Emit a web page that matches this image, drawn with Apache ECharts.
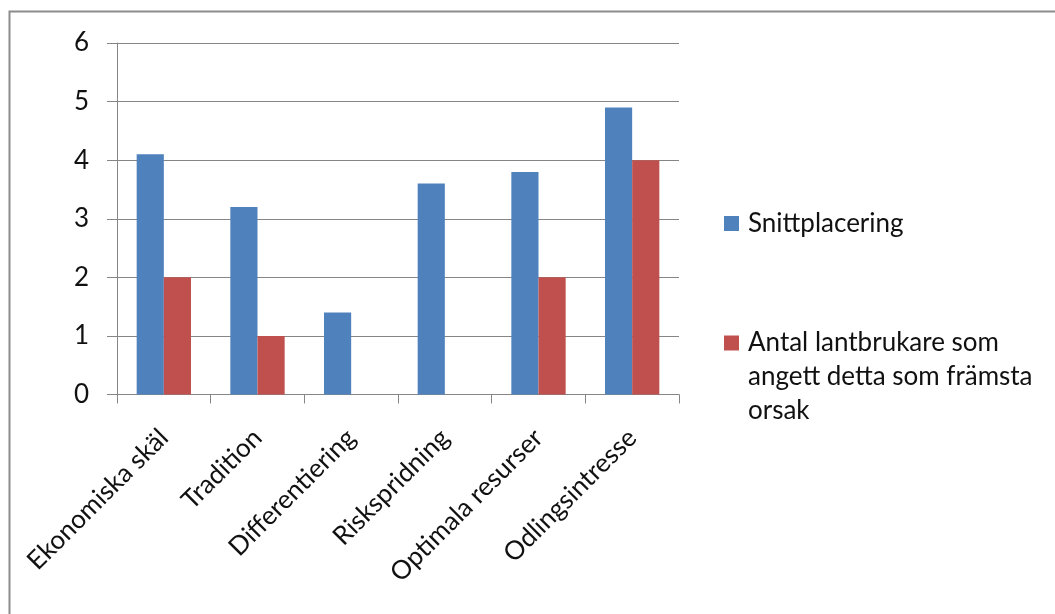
<!DOCTYPE html>
<html>
<head>
<meta charset="utf-8">
<script src="https://cdn.jsdelivr.net/npm/echarts@6/dist/echarts.min.js"></script>
<style>
  html, body { margin: 0; padding: 0; background: #fff; }
  #chart { width: 1055px; height: 614px; }
</style>
</head>
<body>
<div id="chart"></div>
<script>
// Skäl till val av odling
const categories = ['Ekonomiska skäl', 'Tradition', 'Differentiering', 'Riskspridning', 'Optimala resurser', 'Odlingsintresse'];
const seriesNames = ['Snittplacering', 'Antal lantbrukare som angett detta som främsta orsak'];
const snittplacering = [4.1, 3.2, 1.4, 3.6, 3.8, 4.9];
const antalLantbrukare = [2, 1, 0, 0, 2, 4];
const yTicks = [0, 1, 2, 3, 4, 5, 6];

const FONT = 'Lato';
const TEXT = '#111';
const LINE = '#868686';
const FS = 26;

// legend label: small spacer after the swatch; the long name is wrapped on
// three lines, with two blank lines above so the swatch sits on the first line
const legendRich = { g: { width: 4, height: 1 } };

const chart = echarts.init(document.getElementById('chart'), null, { renderer: 'canvas' });

chart.setOption({
  animation: false,
  backgroundColor: '#fff',
  textStyle: { fontFamily: FONT },
  graphic: [{
    type: 'rect',
    shape: { x: 9.5, y: 11.5, width: 1200, height: 800 },
    style: { fill: 'none', stroke: '#8c8c8c', lineWidth: 2 },
    silent: true
  }],
  grid: { left: 117, top: 43, right: 376, bottom: 219.5, containLabel: false },
  legend: [{
    data: [seriesNames[0]],
    orient: 'vertical',
    left: 724, top: 206.5, padding: 0,
    itemWidth: 15, itemHeight: 15, icon: 'rect',
    formatter: name => '{g|}' + name,
    textStyle: { fontFamily: FONT, fontSize: FS, color: TEXT, lineHeight: 34, rich: legendRich },
    itemGap: 0
  }, {
    data: [seriesNames[1]],
    orient: 'vertical',
    left: 724, top: 258, padding: 0,
    itemWidth: 15, itemHeight: 15, icon: 'rect',
    formatter: () => '{g|}\n{g|}\n{g|}Antal lantbrukare som\n{g|}angett detta som främsta\n{g|}orsak',
    textStyle: { fontFamily: FONT, fontSize: FS, color: TEXT, lineHeight: 34, rich: legendRich },
    itemGap: 0
  }],
  xAxis: {
    type: 'category',
    data: categories,
    axisLine: { lineStyle: { color: LINE, width: 1 } },
    axisTick: { show: true, length: 9, alignWithLabel: false, lineStyle: { color: LINE } },
    axisLabel: { rotate: 45, interval: 0, margin: 39, fontFamily: FONT, fontSize: FS, color: TEXT }
  },
  yAxis: {
    type: 'value',
    min: yTicks[0], max: yTicks[yTicks.length - 1], interval: 1,
    axisLine: { show: true, lineStyle: { color: LINE, width: 1 } },
    axisTick: { show: true, length: 10, lineStyle: { color: LINE } },
    axisLabel: { margin: 28, fontFamily: FONT, fontSize: FS, color: TEXT },
    splitLine: { lineStyle: { color: LINE, width: 1 } }
  },
  series: [{
    name: seriesNames[0],
    type: 'bar',
    data: snittplacering,
    itemStyle: { color: '#4F81BD' },
    barGap: '0%',
    barCategoryGap: '42%'
  }, {
    name: seriesNames[1],
    type: 'bar',
    data: antalLantbrukare,
    itemStyle: { color: '#C0504D' },
    barGap: '0%',
    barCategoryGap: '42%'
  }]
});
</script>
</body>
</html>
